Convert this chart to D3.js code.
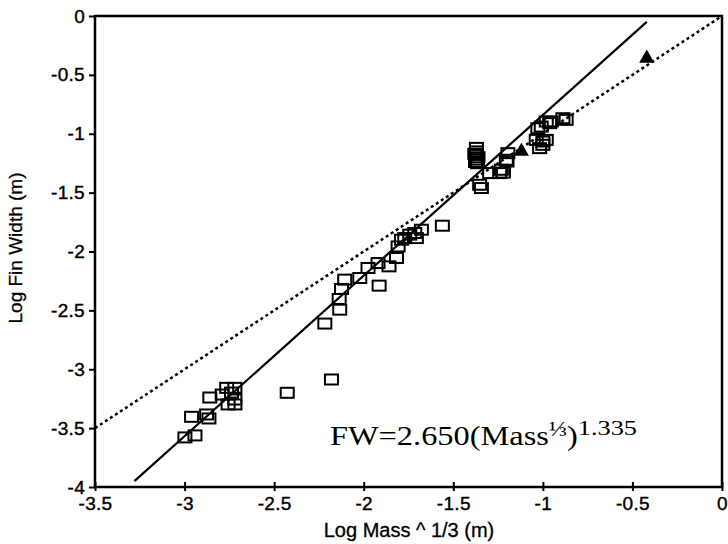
<!DOCTYPE html>
<html>
<head>
<meta charset="utf-8">
<script src="https://cdn.jsdelivr.net/npm/d3@7"></script>
<style>
  body { margin: 0; background: #fff; }
  svg { display: block; }
</style>
</head>
<body>
<div id="chart"></div>
<script>
// axis ticks
var xTicks = [-3.5, -3, -2.5, -2, -1.5, -1, -0.5, 0];
var yTicks = [0, -0.5, -1, -1.5, -2, -2.5, -3, -3.5, -4];

// open squares (log mass^1/3, log fin width)
var squareX = [-2.998, -2.942, -2.961, -2.877, -2.864, -2.859, -2.765, -2.719, -2.738, -2.719, -2.757, -2.719, -2.790,
  -2.427, -2.180, -2.217, -2.134, -2.137, -2.124, -2.106, -2.022, -1.914, -1.976, -1.920, -1.859, -1.817, -1.808,
  -1.789, -1.771, -1.743, -1.715, -1.678, -1.706, -1.561, -1.371, -1.371, -1.371, -1.371, -1.365, -1.343, -1.353,
  -1.297, -1.241, -1.232, -1.200, -1.195, -1.037, -1.000, -1.018, -1.028, -0.962, -0.981, -0.953, -0.870, -0.888,
  -0.981, -1.000, -1.009, -1.204, -1.220, -1.380, -1.362, -1.376];
var squareY = [-3.579, -3.562, -3.404, -3.384, -3.418, -3.240, -3.158, -3.158, -3.198, -3.257, -3.299, -3.299, -3.215,
  -3.200, -3.087, -2.612, -2.494, -2.403, -2.318, -2.239, -2.225, -2.290, -2.140, -2.098, -2.126, -2.055, -1.957,
  -1.900, -1.886, -1.857, -1.843, -1.815, -1.886, -1.781, -1.120, -1.150, -1.180, -1.220, -1.250, -1.461, -1.433,
  -1.334, -1.334, -1.306, -1.236, -1.165, -1.052, -1.066, -1.122, -0.953, -0.910, -0.896, -0.896, -0.882, -0.868,
  -1.052, -1.094, -0.939, -1.221, -1.330, -1.170, -1.200, -1.240];

// filled triangles
var triangleX = [-1.12, -0.42];
var triangleY = [-1.15, -0.36];

// fitted power law (solid) and 1:1 line (dotted)
var fitX = [-3.28, -0.42];
var fitY = [-3.95, -0.05];
var unityX = [-3.5, 0];
var unityY = [-3.5, 0];

var width = 728, height = 544;
var plotLeft = 95, plotRight = 722, plotTop = 16, plotBottom = 487;
var sans = "'Liberation Sans', Arial, sans-serif";

var svg = d3.select("#chart").append("svg")
  .attr("width", width)
  .attr("height", height);

var x = d3.scaleLinear().domain([-3.5, 0]).range([plotLeft, plotRight]);
var y = d3.scaleLinear().domain([-4, 0]).range([plotBottom, plotTop]);

// plain hyphen minus like the original
function fmt(d) { return String(d); }

// frame
svg.append("rect")
  .attr("x", plotLeft).attr("y", plotTop)
  .attr("width", plotRight - plotLeft).attr("height", plotBottom - plotTop)
  .attr("fill", "none")
  .attr("stroke", "#000")
  .attr("stroke-width", 2.5);

var yAxis = svg.append("g")
  .attr("transform", "translate(" + plotLeft + ",0)")
  .call(d3.axisLeft(y).tickValues(yTicks).tickFormat(fmt).tickSize(6).tickPadding(4));

var xAxis = svg.append("g")
  .attr("transform", "translate(0," + plotBottom + ")")
  .call(d3.axisBottom(x).tickValues(xTicks).tickFormat(fmt).tickSize(4).tickPadding(6));

[yAxis, xAxis].forEach(function(a) {
  a.select(".domain").remove();
  a.selectAll("line").attr("stroke", "#000").attr("stroke-width", 2);
  a.selectAll("text")
    .attr("fill", "#000")
    .attr("stroke", "#000")
    .attr("stroke-width", 0.4)
    .style("font-family", sans)
    .style("font-size", "19px")
    .style("letter-spacing", "0.3px");
});
// x ticks cross the axis line
xAxis.selectAll("line").attr("y1", -5);

svg.append("text")
  .attr("transform", "translate(22," + 248 + ") rotate(-90)")
  .attr("text-anchor", "middle")
  .attr("stroke", "#000")
  .attr("stroke-width", 0.3)
  .style("font-family", sans)
  .style("font-size", "19px")
  .text("Log Fin Width (m)");

svg.append("text")
  .attr("x", 409)
  .attr("y", 537)
  .attr("text-anchor", "middle")
  .attr("stroke", "#000")
  .attr("stroke-width", 0.3)
  .style("font-family", sans)
  .style("font-size", "20px")
  .text("Log Mass ^ 1/3 (m)");

var line = d3.line()
  .x(function(d) { return x(d[0]); })
  .y(function(d) { return y(d[1]); });

svg.append("path")
  .datum(d3.zip(unityX, unityY))
  .attr("d", line)
  .attr("fill", "none")
  .attr("stroke", "#000")
  .attr("stroke-width", 2.5)
  .attr("stroke-dasharray", "3,3");

svg.append("path")
  .datum(d3.zip(fitX, fitY))
  .attr("d", line)
  .attr("fill", "none")
  .attr("stroke", "#000")
  .attr("stroke-width", 2.2);

svg.append("g").selectAll("rect")
  .data(d3.zip(squareX, squareY))
  .enter().append("rect")
    .attr("x", function(d) { return x(d[0]) - 6.5; })
    .attr("y", function(d) { return y(d[1]) - 5; })
    .attr("width", 13)
    .attr("height", 10)
    .attr("fill", "none")
    .attr("stroke", "#000")
    .attr("stroke-width", 2);

svg.append("g").selectAll("path")
  .data(d3.zip(triangleX, triangleY))
  .enter().append("path")
    .attr("transform", function(d) { return "translate(" + x(d[0]) + "," + y(d[1]) + ")"; })
    .attr("d", d3.symbol().type(d3.symbolTriangle).size(100))
    .attr("fill", "#000");

// equation, stretched a little to the width of the original typeface
var eq = svg.append("text")
  .attr("transform", "translate(330,445) scale(1.2,1)")
  .style("font-family", "'Liberation Serif', 'Times New Roman', serif")
  .style("font-size", "27px");
eq.append("tspan").text("FW=2.650(Mass");
eq.append("tspan").attr("dy", -9).style("font-size", "20px").text("\u2153");
eq.append("tspan").attr("dy", 9).text(")");
eq.append("tspan").attr("dy", -10).style("font-size", "22px").text("1.335");
</script>
</body>
</html>
